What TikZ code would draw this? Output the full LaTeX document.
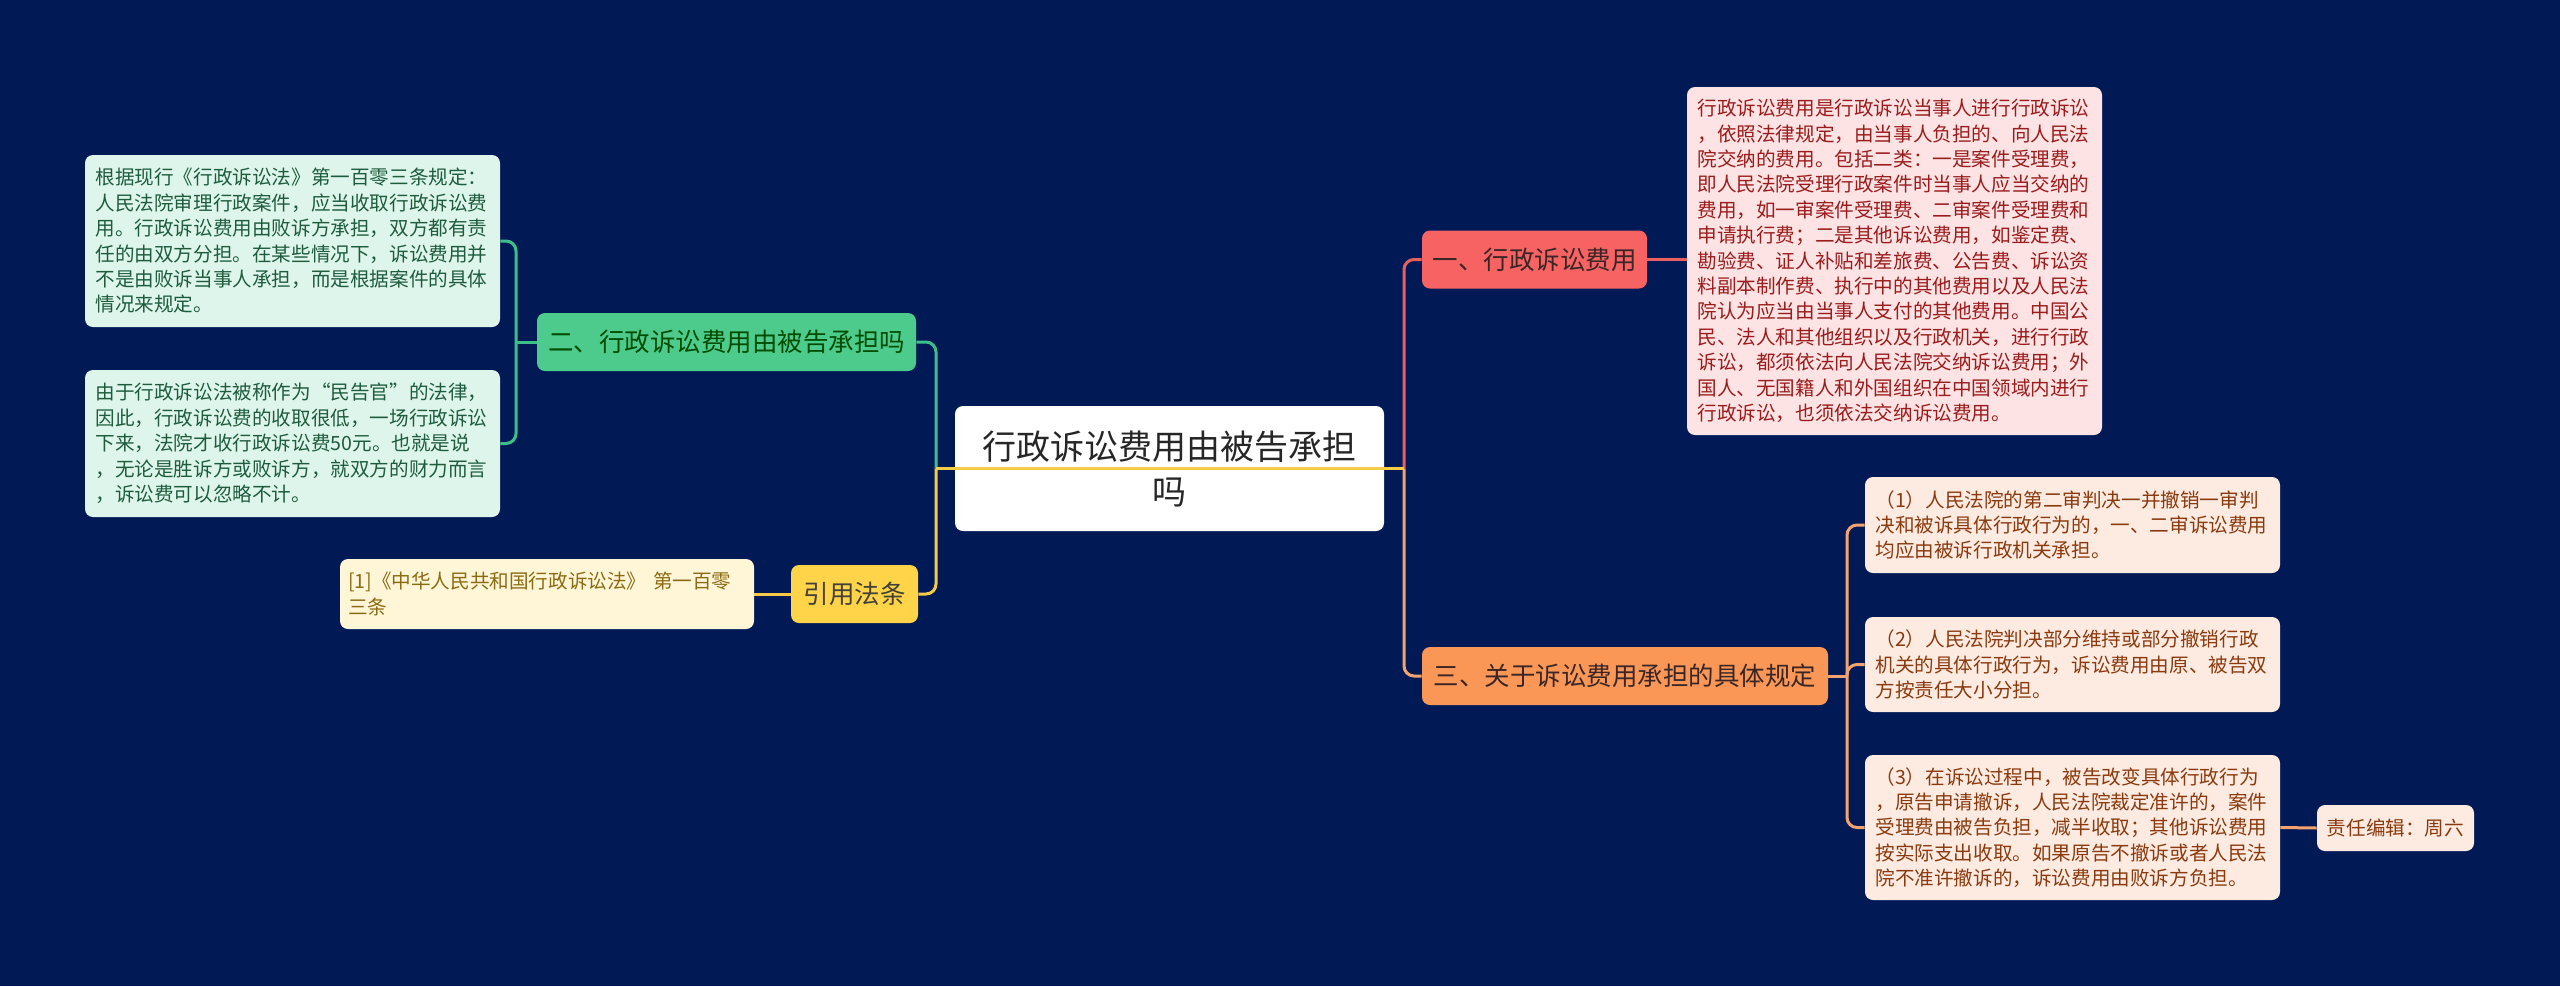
\documentclass[tikz,border=0pt]{standalone}
\usepackage{fontspec}
\setmainfont{Noto Sans CJK SC}
\definecolor{navy}{HTML}{011A56}
\definecolor{redfill}{HTML}{F76363}
\definecolor{redline}{HTML}{E8605E}
\definecolor{pinkfill}{HTML}{FDE3E4}
\definecolor{pinktext}{HTML}{9A1C1C}
\definecolor{orgfill}{HTML}{FA9757}
\definecolor{orgline}{HTML}{F4A36E}
\definecolor{peachfill}{HTML}{FDEBE1}
\definecolor{peachtext}{HTML}{8A3A0E}
\definecolor{grnfill}{HTML}{4CCB8D}
\definecolor{grnline}{HTML}{3DBF8A}
\definecolor{mintfill}{HTML}{DDF5EA}
\definecolor{minttext}{HTML}{1F5C3E}
\definecolor{ylwfill}{HTML}{FFD449}
\definecolor{ylwline}{HTML}{F6CB45}
\definecolor{creamfill}{HTML}{FFF6D8}
\definecolor{creamtext}{HTML}{8C6A12}
\definecolor{darktext}{HTML}{3A2626}
\tikzset{
  box/.style={rounded corners=4pt, inner sep=0pt},
  mainbox/.style={box, fill=white, text=black!85, align=center,
    font=\fontsize{17}{22.5}\selectfont, minimum width=214.5pt, minimum height=62.5pt},
  branch/.style={box, align=center, text=darktext, font=\fontsize{12.75}{15}\selectfont, minimum height=29pt},
  notebox/.style={box, align=left, text width=197pt, minimum width=207.5pt,
    font=\fontsize{9.8}{12.7}\selectfont},
  link/.style={line width=1.5pt, rounded corners=5pt},
}
\begin{document}
\begin{tikzpicture}[x=0.5pt,y=-0.5pt]
\fill[navy] (0,0) rectangle (2560,986);
\useasboundingbox (0,0) rectangle (2560,986);

\node[mainbox] (main) at (1169.5,468.5) {行政诉讼费用由被告承担\\吗};

\node[branch, fill=redfill, minimum width=112.5pt] (fee) at (1534.5,259.5) {一、行政诉讼费用};
\node[branch, fill=orgfill, minimum width=203pt] (rule) at (1625,676) {三、关于诉讼费用承担的具体规定};
\node[branch, fill=grnfill, text=black!70!green, minimum width=189.5pt] (who) at (726.5,342) {二、行政诉讼费用由被告承担吗};
\node[branch, fill=ylwfill, text=black!85!yellow, minimum width=63.5pt] (law) at (854.5,594) {引用法条};

\node[notebox, fill=pinkfill, text=pinktext, minimum height=174pt] (feetxt) at (1894.5,261) {行政诉讼费用是行政诉讼当事人进行行政诉讼\\，依照法律规定，由当事人负担的、向人民法\\院交纳的费用。包括二类：一是案件受理费，\\即人民法院受理行政案件时当事人应当交纳的\\费用，如一审案件受理费、二审案件受理费和\\申请执行费；二是其他诉讼费用，如鉴定费、\\勘验费、证人补贴和差旅费、公告费、诉讼资\\料副本制作费、执行中的其他费用以及人民法\\院认为应当由当事人支付的其他费用。中国公\\民、法人和其他组织以及行政机关，进行行政\\诉讼，都须依法向人民法院交纳诉讼费用；外\\国人、无国籍人和外国组织在中国领域内进行\\行政诉讼，也须依法交纳诉讼费用。};

\node[notebox, fill=peachfill, text=peachtext, minimum height=48pt] (ruleA) at (2072.5,525) {（1）人民法院的第二审判决一并撤销一审判\\决和被诉具体行政行为的，一、二审诉讼费用\\均应由被诉行政机关承担。};
\node[notebox, fill=peachfill, text=peachtext, minimum height=47.5pt] (ruleB) at (2072.5,664.5) {（2）人民法院判决部分维持或部分撤销行政\\机关的具体行政行为，诉讼费用由原、被告双\\方按责任大小分担。};
\node[notebox, fill=peachfill, text=peachtext, minimum height=72.5pt] (ruleC) at (2072.5,827.5) {（3）在诉讼过程中，被告改变具体行政行为\\，原告申请撤诉，人民法院裁定准许的，案件\\受理费由被告负担，减半收取；其他诉讼费用\\按实际支出收取。如果原告不撤诉或者人民法\\院不准许撤诉的，诉讼费用由败诉方负担。};
\node[box, fill=peachfill, text=peachtext, font=\fontsize{9.8}{12.7}\selectfont,
  minimum width=78.5pt, minimum height=23pt] (editor) at (2395.5,828) {责任编辑：周六};

\node[notebox, fill=mintfill, text=minttext, minimum height=86pt] (whoA) at (292.5,241) {根据现行《行政诉讼法》第一百零三条规定：\\人民法院审理行政案件，应当收取行政诉讼费\\用。行政诉讼费用由败诉方承担，双方都有责\\任的由双方分担。在某些情况下，诉讼费用并\\不是由败诉当事人承担，而是根据案件的具体\\情况来规定。};
\node[notebox, fill=mintfill, text=minttext, minimum height=73.5pt] (whoB) at (292.5,443.5) {由于行政诉讼法被称作为“民告官”的法律，\\因此，行政诉讼费的收取很低，一场行政诉讼\\下来，法院才收行政诉讼费50元。也就是说\\，无论是胜诉方或败诉方，就双方的财力而言\\，诉讼费可以忽略不计。};

\node[notebox, fill=creamfill, text=creamtext, text width=199pt, minimum width=207pt,
  minimum height=35pt] (cite) at (547,594) {[1]《中华人民共和国行政诉讼法》 第一百零\\三条};

\coordinate (jl) at (936,468.5);
\coordinate (jr) at (1404,468.5);
\coordinate (jrule) at (1847,676);
\coordinate (jwho) at (516,342);

\draw[link, redline] (jr) |- (fee.west);
\draw[link, orgline] (jr) |- (rule.west);
\draw[link, grnline] (jl) |- (who.east);
\draw[link, ylwline] (jl) |- (law.east);
\draw[link, ylwline] (jl) -- (jr);

\draw[link, redline] (fee.east) -- (fee.east -| feetxt.west);
\draw[link, orgline] (rule.east) -- (jrule);
\draw[link, orgline] (jrule) |- (ruleA.west);
\draw[link, orgline] (jrule) |- (ruleB.west);
\draw[link, orgline] (jrule) |- (ruleC.west);
\draw[link, orgline] (ruleC.east) -- (editor.west);

\draw[link, grnline] (who.west) -- (jwho);
\draw[link, grnline] (jwho) |- (whoA.east);
\draw[link, grnline] (jwho) |- (whoB.east);
\draw[link, ylwline] (law.west) -- (law.west -| cite.east);
\end{tikzpicture}
\end{document}
